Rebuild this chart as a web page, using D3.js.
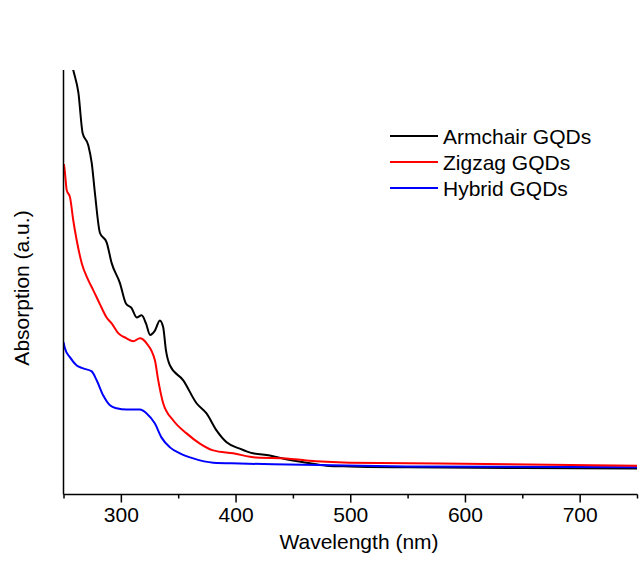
<!DOCTYPE html>
<html>
<head>
<meta charset="utf-8">
<script src="https://cdn.jsdelivr.net/npm/d3@7"></script>
<style>
html,body{margin:0;padding:0;background:#fff;}
svg{display:block;}
text{font-family:"Liberation Sans",Arial,sans-serif;fill:#000;}
</style>
</head>
<body>
<script>
// ---- data (wavelength nm, absorption a.u.) ----
const seriesNames = ["Armchair GQDs", "Zigzag GQDs", "Hybrid GQDs"];
const seriesColors = ["#000000", "#ff0000", "#0000ff"];

const armchairWl = [250, 258.5, 263, 266.7, 271.6, 274.6, 277.4, 281.8, 287.6, 292, 299.2, 304.4, 309.4, 313.8, 318.1, 321.9, 325.5, 329.7, 334, 336.9, 339.3, 342.8, 354.4, 366, 374.7, 383.4, 392.2, 403.7, 415, 429.9, 441.2, 461.8, 479.3, 499.6, 550, 650, 750];
const armchairAbs = [110.4, 100, 94.6, 85.1, 82.3, 78.1, 71.0, 61.6, 59.4, 54.5, 49.8, 45.0, 43.9, 41.7, 42.2, 40.3, 37.6, 38.6, 41.0, 39.4, 34.0, 30.4, 26.9, 21.5, 19.1, 15.1, 12.3, 10.8, 9.7, 9.2, 8.5, 7.5, 6.8, 6.6, 6.4, 6.25, 6.1];

const zigzagWl = [250.4, 251.3, 252.8, 255.7, 258.5, 261.5, 265.9, 271.6, 276, 281.8, 287.6, 292, 297.7, 305, 310.8, 316.6, 322.5, 329.7, 332.6, 336.9, 345.6, 357.3, 368.9, 380.5, 397.9, 418.3, 444.4, 461.8, 499.6, 578, 750];
const zigzagAbs = [77.8, 75.7, 71.7, 70.0, 64.6, 59.9, 54.5, 50.5, 48.1, 44.8, 41.7, 40.3, 38.0, 36.8, 36.1, 36.8, 35.6, 31.6, 26.9, 21.5, 17.5, 14.4, 12.0, 10.4, 9.7, 8.7, 8.5, 8.0, 7.5, 7.3, 6.8];

const hybridWl = [250, 251.3, 255.7, 261.5, 267.2, 274.6, 278.9, 284.7, 290.5, 296.3, 305, 316.6, 322.5, 329.7, 335.5, 342.8, 351.5, 363.1, 380.5, 403.7, 432.8, 549, 750];
const hybridAbs = [35.9, 34.4, 32.3, 30.4, 29.7, 29.0, 26.9, 23.3, 21.0, 20.3, 20.0, 20.0, 19.1, 16.7, 13.4, 11.1, 9.7, 8.5, 7.5, 7.3, 7.1, 6.6, 6.4];

const majorTicks = [300, 400, 500, 600, 700];
const minorTicks = [250, 350, 450, 550, 650, 750];
const xTitle = "Wavelength (nm)";
const yTitle = "Absorption (a.u.)";

// ---- drawing ----
const W = 644, H = 585;
const FS = 21;
const svg = d3.select("body").append("svg").attr("width", W).attr("height", H);
svg.append("rect").attr("width", W).attr("height", H).attr("fill", "#fff");

const x = d3.scaleLinear().domain([250, 750]).range([63.5, 637]);
const y = d3.scaleLinear().domain([0, 100]).range([494.5, 70]);

svg.append("defs").append("clipPath").attr("id", "clip")
  .append("rect").attr("x", 63.5).attr("y", 70).attr("width", 637 - 63.5).attr("height", 494.5 - 70);

const series = [
  {wl: armchairWl, v: armchairAbs},
  {wl: zigzagWl, v: zigzagAbs},
  {wl: hybridWl, v: hybridAbs}
];

const line = d3.line().x(d => x(d[0])).y(d => y(d[1])).curve(d3.curveMonotoneX);
const g = svg.append("g").attr("clip-path", "url(#clip)");
[0, 2, 1].forEach(i => {
  const s = series[i];
  g.append("path")
    .datum(s.wl.map((w, k) => [w, s.v[k]]))
    .attr("fill", "none")
    .attr("stroke", seriesColors[i])
    .attr("stroke-width", 2)
    .attr("stroke-linejoin", "round")
    .attr("d", line);
});

// x axis: major ticks with labels
const axisY = 494.5;
const gx = svg.append("g").attr("transform", `translate(0,${axisY})`);
gx.call(d3.axisBottom(x).tickValues(majorTicks).tickSize(8).tickPadding(5).tickFormat(d3.format("d")));
gx.select(".domain").remove();
gx.selectAll(".tick line").attr("stroke", "#000").attr("stroke-width", 1.5);
gx.selectAll(".tick text").attr("font-size", FS).attr("font-family", '"Liberation Sans",Arial,sans-serif').attr("fill", "#000");
// minor ticks
const gm = svg.append("g").attr("transform", `translate(0,${axisY})`);
gm.call(d3.axisBottom(x).tickValues(minorTicks).tickSize(4).tickFormat(""));
gm.select(".domain").remove();
gm.selectAll(".tick line").attr("stroke", "#000").attr("stroke-width", 1.5);

// axis lines
svg.append("line").attr("x1", 63.5).attr("x2", 637.5).attr("y1", axisY).attr("y2", axisY)
  .attr("stroke", "#000").attr("stroke-width", 1.5);
svg.append("line").attr("x1", 63.5).attr("x2", 63.5).attr("y1", 70).attr("y2", axisY)
  .attr("stroke", "#000").attr("stroke-width", 1.5);

// titles
svg.append("text").attr("x", 359).attr("y", 549).attr("text-anchor", "middle")
  .attr("font-size", FS).text(xTitle);
svg.append("text").attr("transform", "translate(29,288) rotate(-90)").attr("text-anchor", "middle")
  .attr("font-size", FS).text(yTitle);

// legend
const lg = svg.append("g");
seriesNames.forEach((name, i) => {
  const ly = 136 + i * 26;
  lg.append("line").attr("x1", 390).attr("x2", 438).attr("y1", ly).attr("y2", ly)
    .attr("stroke", seriesColors[i]).attr("stroke-width", 2);
  lg.append("text").attr("x", 443).attr("y", ly + 7.5).attr("font-size", FS).text(name);
});
</script>
</body>
</html>
